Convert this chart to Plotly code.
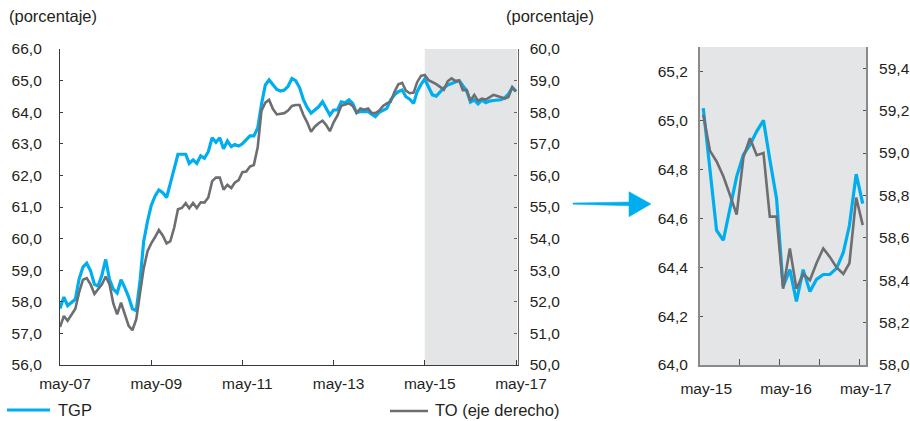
import plotly.graph_objects as go
import pandas as pd

# ---------------- data ----------------
meses = pd.date_range("2007-05-01", "2017-05-01", freq="MS")  # 121 months

tgp = [
    57.79, 58.15, 57.88, 57.98, 58.08, 58.72, 59.10, 59.22, 58.98, 58.55,
    58.50, 58.85, 59.34, 58.70, 58.40, 58.28, 58.70, 58.45, 58.15, 57.78,
    57.72, 58.69, 59.90, 60.55, 61.05, 61.35, 61.54, 61.45, 61.30, 61.75,
    62.20, 62.67, 62.67, 62.67, 62.38, 62.49, 62.38, 62.62, 62.54, 62.75,
    63.19, 63.05, 63.19, 62.84, 63.09, 62.91, 62.98, 62.93, 63.00, 63.13,
    63.25, 63.25, 63.50, 64.25, 64.86, 65.02, 64.85, 64.72, 64.67, 64.70,
    64.82, 65.07, 65.00, 64.78, 64.40, 64.15, 63.97, 64.07, 64.17, 64.33,
    64.12, 63.91, 64.07, 64.07, 64.33, 64.30, 64.39, 64.28, 63.98, 64.02,
    64.02, 64.02, 63.94, 63.86, 64.00, 64.05, 64.12, 64.39, 64.55, 64.65,
    64.70, 64.49, 64.41, 64.28, 64.65, 64.88,
    65.05, 64.79, 64.55, 64.51, 64.65, 64.77, 64.86, 64.90, 64.955, 65.00,
    64.84, 64.68, 64.32, 64.39, 64.26, 64.39, 64.30, 64.35, 64.37, 64.37,
    64.395, 64.46, 64.57, 64.78, 64.66,
]

to = [
    51.20, 51.55, 51.40, 51.60, 51.78, 52.30, 52.70, 52.75, 52.55, 52.25,
    52.38, 52.55, 52.80, 52.55, 51.95, 51.60, 51.97, 51.60, 51.24, 51.10,
    51.45, 52.30, 53.05, 53.60, 53.85, 54.05, 54.27, 54.10, 53.85, 53.92,
    54.35, 54.93, 54.97, 55.12, 54.96, 55.13, 54.97, 55.15, 55.14, 55.30,
    55.82, 55.93, 55.93, 55.55, 55.70, 55.60, 55.77, 55.85, 56.10, 56.12,
    56.28, 56.33, 56.90, 58.05, 58.30, 58.39, 58.10, 57.93, 57.95, 57.97,
    58.05, 58.20, 58.23, 58.23, 57.91, 57.68, 57.38, 57.54, 57.65, 57.73,
    57.60, 57.40, 57.68, 57.90, 58.20, 58.25, 58.28, 58.20, 57.98, 58.12,
    58.08, 58.12, 57.98, 57.97, 58.05, 58.20, 58.28, 58.33, 58.65, 58.88,
    58.93, 58.68, 58.60, 58.62, 58.95, 59.15,
    59.18, 59.01, 58.96, 58.89, 58.80, 58.71, 58.98, 59.07, 58.99, 59.00,
    58.70, 58.70, 58.36, 58.55, 58.36, 58.43, 58.40, 58.48, 58.55, 58.51,
    58.46, 58.43, 58.48, 58.79, 58.66,
]

zoom_start = "2015-05-01"
tick_dates_left = ["2007-05-01", "2009-05-01", "2011-05-01", "2013-05-01", "2015-05-01", "2017-05-01"]
tick_text_left = ["may-07", "may-09", "may-11", "may-13", "may-15", "may-17"]
tick_dates_right = ["2015-05-01", "2016-05-01", "2017-05-01"]
tick_text_right = ["may-15", "may-16", "may-17"]
minor_right = ["2015-10-16", "2016-04-16", "2016-10-16", "2017-04-16"]

serie_tgp = "TGP"
serie_to = "TO (eje derecho)"

# ---------------- style ----------------
BLUE = "#00aeef"
GRAY = "#6d6e71"
SHADE = "#e4e5e6"
TXT = "#231f20"
FONT = "Liberation Sans, Arial, Helvetica, sans-serif"
FS = 15.5
W, H = 910, 421


def px(x):
    return x / W


def py(y):
    return (H - y) / H


zoom_dates = meses[meses >= zoom_start]
n0 = len(meses) - len(zoom_dates)

fig = go.Figure()
# left chart
fig.add_trace(go.Scatter(x=meses, y=tgp, mode="lines", line=dict(color=BLUE, width=3.2),
                         xaxis="x", yaxis="y", showlegend=False, name=serie_tgp))
fig.add_trace(go.Scatter(x=meses, y=to, mode="lines", line=dict(color=GRAY, width=2.6),
                         xaxis="x", yaxis="y2", showlegend=False, name=serie_to))
# right chart (zoom)
fig.add_trace(go.Scatter(x=zoom_dates, y=tgp[n0:], mode="lines", line=dict(color=BLUE, width=3.2),
                         xaxis="x2", yaxis="y3", showlegend=False, name=serie_tgp))
fig.add_trace(go.Scatter(x=zoom_dates, y=to[n0:], mode="lines", line=dict(color=GRAY, width=2.6),
                         xaxis="x2", yaxis="y4", showlegend=False, name=serie_to))

tickfont = dict(family=FONT, size=FS, color=TXT)
LAX = "#3a3a3a"
RAX = "#8a8a8a"

fig.update_layout(
    template="none",
    width=W, height=H,
    margin=dict(l=0, r=0, t=0, b=0),
    paper_bgcolor="white", plot_bgcolor="white",
    separators=",.",
    font=dict(family=FONT, size=FS, color=TXT),
    xaxis=dict(domain=[px(60), px(517.5)], anchor="y", type="date",
               range=["2007-05-01", "2017-05-13"],
               tickmode="array", tickvals=tick_dates_left, ticktext=tick_text_left,
               ticks="inside", ticklen=5, tickwidth=1.2, tickcolor=LAX,
               showline=True, linecolor=LAX, linewidth=1.3, showgrid=False, zeroline=False,
               tickfont=tickfont, ticklabelshift=5, ticklabelstandoff=4, automargin=False),
    yaxis=dict(domain=[py(365), py(49)], anchor="x", range=[56, 66], dtick=1, tick0=56,
               tickformat=".1f", ticks="inside", ticklen=3, tickwidth=1.2, tickcolor=LAX,
               showline=True, linecolor=LAX, linewidth=1.3, showgrid=False, zeroline=False,
               tickfont=tickfont, ticklabelstandoff=14, automargin=False),
    yaxis2=dict(overlaying="y", anchor="x", side="right", range=[50, 60], dtick=1, tick0=50,
                tickformat=".1f", ticks="inside", ticklen=3, tickwidth=1.2, tickcolor="#666",
                showline=True, linecolor="#666", linewidth=1.3, showgrid=False, zeroline=False,
                tickfont=tickfont, ticklabelstandoff=8, automargin=False),
    xaxis2=dict(domain=[px(700), px(866)], anchor="y3", type="date",
                range=["2015-04-16", "2017-05-16"],
                tickmode="array", tickvals=tick_dates_right, ticktext=tick_text_right,
                ticks="", showline=True, linecolor=RAX, linewidth=2, showgrid=False, zeroline=False,
                minor=dict(tickmode="array", tickvals=minor_right, ticks="inside", ticklen=6,
                           tickwidth=1.2, tickcolor="#555"),
                tickfont=tickfont, ticklabelshift=3, ticklabelstandoff=8, automargin=False),
    yaxis3=dict(domain=[py(365), py(47)], anchor="x2", range=[64.0, 65.3], dtick=0.2, tick0=64,
                tickformat=".1f", ticks="inside", ticklen=3, tickwidth=1.2, tickcolor="#555",
                showline=True, linecolor=RAX, linewidth=2, showgrid=False, zeroline=False,
                tickfont=tickfont, ticklabelstandoff=7, automargin=False),
    yaxis4=dict(overlaying="y3", anchor="x2", side="right", range=[58.0, 59.5], dtick=0.2, tick0=58,
                tickformat=".1f", ticks="inside", ticklen=3, tickwidth=1.2, tickcolor="#555",
                showline=True, linecolor=RAX, linewidth=2, showgrid=False, zeroline=False,
                tickfont=tickfont, ticklabelstandoff=8, automargin=False),
)

shapes = [
    # shaded period in left chart
    dict(type="rect", xref="x", yref="y domain", x0=zoom_start, x1="2017-05-13", y0=0, y1=1,
         fillcolor=SHADE, line=dict(width=0), layer="below"),
    # right chart background
    dict(type="rect", xref="x2 domain", yref="y3 domain", x0=0, x1=1, y0=0, y1=1,
         fillcolor=SHADE, line=dict(width=0), layer="below"),
    # legend line samples
    dict(type="line", xref="paper", yref="paper", x0=px(7), x1=px(50), y0=py(410), y1=py(410),
         line=dict(color=BLUE, width=3.2)),
    dict(type="line", xref="paper", yref="paper", x0=px(390), x1=px(428), y0=py(411), y1=py(411),
         line=dict(color=GRAY, width=2.6)),
]

# arrow between charts
arrow_pts = [(573, 203.0), (629, 202.0), (629, 191.7), (651, 204.0), (629, 216.7), (629, 205.8), (573, 204.2)]
path = "M " + " L ".join(f"{px(x):.5f},{py(y):.5f}" for x, y in arrow_pts) + " Z"
shapes.append(dict(type="path", xref="paper", yref="paper", path=path,
                   fillcolor=BLUE, line=dict(color=BLUE, width=0.5)))
fig.update_layout(shapes=shapes)

TFS = 16.5
annotations = [
    dict(text="(porcentaje)", xref="paper", yref="paper", x=px(7), y=py(16), xanchor="left",
         yanchor="middle", showarrow=False, font=dict(family=FONT, size=TFS, color=TXT)),
    dict(text="(porcentaje)", xref="paper", yref="paper", x=px(504), y=py(16), xanchor="left",
         yanchor="middle", showarrow=False, font=dict(family=FONT, size=TFS, color=TXT)),
    dict(text=serie_tgp, xref="paper", yref="paper", x=px(56), y=py(410), xanchor="left",
         yanchor="middle", showarrow=False, font=dict(family=FONT, size=TFS, color=TXT)),
    dict(text=serie_to, xref="paper", yref="paper", x=px(433), y=py(410), xanchor="left",
         yanchor="middle", showarrow=False, font=dict(family=FONT, size=TFS, color=TXT)),
]
fig.update_layout(annotations=annotations)

fig.write_html("out.html", config={"displayModeBar": False},
               post_script="document.body.style.margin='0';document.body.style.overflow='hidden';")
